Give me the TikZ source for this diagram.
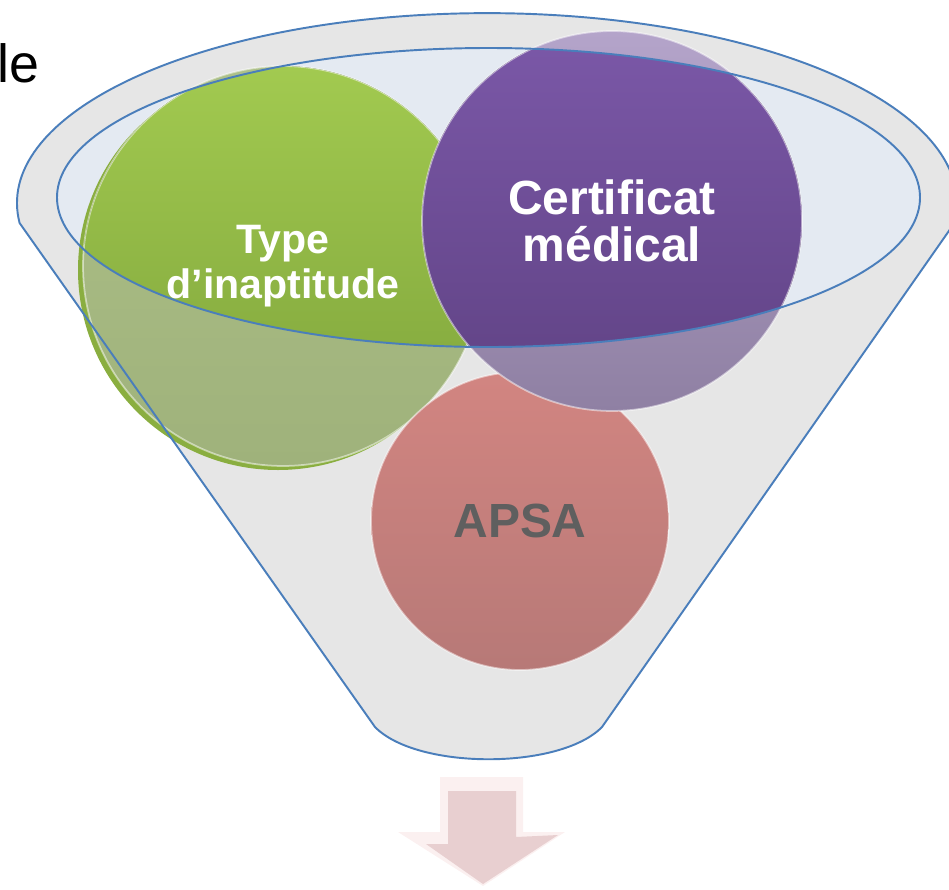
\documentclass[tikz,border=0pt]{standalone}
\usepackage{fontspec}
\setmainfont{Liberation Sans}
\definecolor{funnelgray}{HTML}{E6E6E6}
\definecolor{mouthblue}{HTML}{E4EAF2}
\definecolor{rimblue}{HTML}{4A7EBB}
\definecolor{greenTop}{HTML}{A2CA50}
\definecolor{greenBot}{HTML}{7DA23A}
\definecolor{fadegreenTop}{HTML}{ADC088}
\definecolor{fadegreenBot}{HTML}{9FB27B}
\definecolor{rimgreen}{HTML}{8AAE40}
\definecolor{purpleTop}{HTML}{7B58A8}
\definecolor{purpleBot}{HTML}{5F4283}
\definecolor{fadepurpleTop}{HTML}{B4A4CA}
\definecolor{fadepurpleBot}{HTML}{8F80A3}
\definecolor{fadepinkTop}{HTML}{D28581}
\definecolor{fadepinkBot}{HTML}{B77977}
\definecolor{apsagray}{HTML}{5F5F5F}
\definecolor{arrowlight}{HTML}{FBF0F0}
\definecolor{arrowface}{HTML}{E8CFD0}
\tikzset{
  rimline/.style={draw=rimblue, line width=1.1pt},
  ball/.style={circle, inner sep=0pt, align=center, text=white,
    draw=white, draw opacity=0.5, line width=1pt,
    font=\bfseries\fontsize{27.3}{26.6}\selectfont},
  lit/.style 2 args={path picture={
    \begin{scope}
      \clip (mouth) ellipse[x radius=431.5, y radius=149.5];
      \fill[top color=#1, bottom color=#2] (path picture bounding box.north west)
        rectangle (path picture bounding box.south east);
    \end{scope}}},
}
\newcommand\funnelshape{(19.6,223) arc[start angle=174, end angle=366, x radius=470, y radius=190]
  -- (spoutR) .. controls (560,770) and (417,770) .. (spoutL) -- cycle}
\begin{document}
\begin{tikzpicture}[x=0.02cm, y=-0.02cm, line join=round]
  \useasboundingbox (0,0) rectangle (949,889);
  \clip (0,0) rectangle (949,889);
  \coordinate (mouth) at (488.5,197.5);
  \coordinate (spoutL) at (375,727);
  \coordinate (spoutR) at (602,727);
  % funnel body and mouth
  \path[fill=funnelgray] \funnelshape;
  \fill[mouthblue] (mouth) ellipse[x radius=431.5, y radius=149.5];
  % balls
  \fill[rimgreen] (278,270) circle[radius=200];
  \node[ball, minimum size=8cm, font=\bfseries\fontsize{23.4}{25.5}\selectfont,
    top color=fadegreenTop, bottom color=fadegreenBot, lit={greenTop}{greenBot}]
    (typ) at (283,266) {Type\\d’inaptitude};
  \node[ball, minimum size=5.96cm, text=apsagray,
    top color=fadepinkTop, bottom color=fadepinkBot] (apsa) at (520,521) {APSA};
  \node[ball, minimum size=7.6cm,
    top color=fadepurpleTop, bottom color=fadepurpleBot, lit={purpleTop}{purpleBot}]
    (cert) at (612,221) {Certificat\\médical};
  % outlines on top
  \draw[rimline] (mouth) ellipse[x radius=431.5, y radius=149.5];
  \draw[rimline] \funnelshape;
  % arrow
  \fill[arrowlight] (440,777) -- (523,777) -- (523,832) -- (565,832) -- (483,886)
    -- (398,832) -- (440,832) -- cycle;
  \fill[arrowface] (448,791) -- (516,791) -- (516,837) -- (558,835) -- (483,884)
    -- (426,844) -- (448,844) -- cycle;
  \node[anchor=base east, inner sep=0pt, font=\fontsize{30.6}{36}\selectfont]
    (cue) at (40,82) {le};
\end{tikzpicture}
\end{document}
